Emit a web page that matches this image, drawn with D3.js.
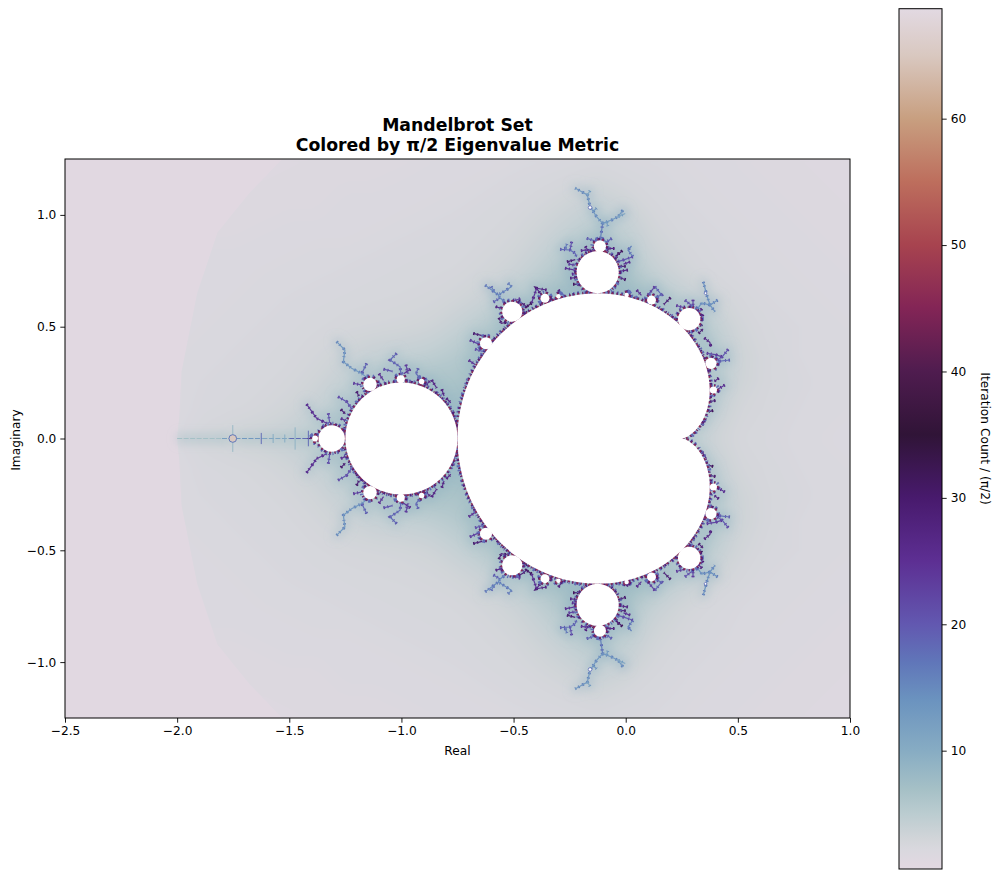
<!DOCTYPE html>
<html>
<head>
<meta charset="utf-8">
<script src="https://cdn.jsdelivr.net/npm/d3@7"></script>
<style>
  html, body { margin: 0; padding: 0; background: #fff; }
  text { font-family: "DejaVu Sans", sans-serif; fill: #000; }
</style>
</head>
<body>
<svg id="chart" width="1000" height="878"></svg>
<script>

const xTicks = [-2.5, -2, -1.5, -1, -0.5, 0, 0.5, 1];
const yTicks = [-1, -0.5, 0, 0.5, 1];
const barTicks = [10, 20, 30, 40, 50, 60];
const barDomain = [0.64, 68.7];

// colour bar, value -> colour
const cmapValues = [0.64, 1, 2.2, 3, 5, 7, 10, 14, 17, 20, 25, 30, 35, 40, 45, 50, 55, 60, 65, 68.7];
const cmapColors = ["#e2d9e2", "#e1d8e1", "#d9d8de", "#d2d5d9", "#bbccd0", "#a5c0c6", "#87acc3", "#6b93bf", "#6076b9", "#6258b0",
  "#5d2f93", "#481a6d", "#301437", "#4f1c4f", "#832556", "#a7434f", "#bd6e5d", "#c89f80", "#d9c8c0", "#e2d9e2"];

// background field, x from -2.5 to 1 by 0.125, rows y = 1.25 down to 0 by 0.125
const fieldX0 = -2.5, fieldY0 = 1.25, fieldStep = 0.125;
const fieldRows = [
  [1.7,1.7,1.7,1.7,1.7,1.7,1.7,1.7,1.7,1.8,1.8,1.9,1.9,2,2,2.1,2.2,2.3,2.4,2.5,2.4,2.3,2.2,2.1,2,1.9,1.8,1.7,1.6],
  [1.7,1.7,1.7,1.7,1.7,1.7,1.8,1.8,1.9,1.9,2,2,2.1,2.1,2.2,2.3,2.5,2.7,3,3.4,2.9,2.6,2.3,2.2,2.1,2,1.9,1.8,1.7],
  [1.8,1.8,1.8,1.8,1.8,1.8,1.9,1.9,2,2,2.1,2.1,2.2,2.3,2.4,2.6,2.8,3.2,3.8,4.6,4,2.9,2.5,2.3,2.2,2.1,2,1.9,1.8],
  [1.9,1.9,1.9,1.9,1.9,2,2,2.1,2.1,2.2,2.2,2.3,2.4,2.5,2.6,2.8,3.1,3.8,5,6.5,5,3.4,2.8,2.5,2.3,2.2,2.1,2,1.9],
  [2,2,2,2,2,2.1,2.1,2.2,2.3,2.3,2.4,2.5,2.6,2.7,2.8,3.1,3.6,4.8,6.5,8,6.5,4.2,3.2,2.7,2.4,2.3,2.2,2.1,2],
  [2,2,2,2,2.1,2.1,2.2,2.3,2.4,2.5,2.6,2.7,2.8,2.9,3.2,3.8,5.2,6.5,8,8,8,6.5,4.6,3.6,2.8,2.4,2.3,2.2,2.1],
  [2,2,2,2,2.1,2.2,2.3,2.4,2.5,2.7,2.9,3,3.1,3.4,4.2,5.5,8,8,8,8,8,8,6.5,5,3.2,2.6,2.4,2.3,2.2],
  [2,2,2,2,2.2,2.3,2.4,2.5,2.7,3,3.5,4,4.3,4.6,5.5,8,8,8,8,8,8,8,8,6,3.6,2.8,2.4,2.3,2.2],
  [2,2,2,2,2.2,2.4,2.5,2.7,2.9,3.4,4.4,6,7,7,6.5,8,8,8,8,8,8,8,8,6,3.5,2.8,2.5,2.3,2.2],
  [2,2,2,2,2.2,2.5,2.7,2.9,3.3,4.2,5.5,8,8,8,8,8,8,8,8,8,8,8,8,4.8,3,2.7,2.4,2.3,2.2],
  [2,2,2,2,2.3,3,3.4,3.7,4.3,5.5,8,8,8,8,8,8,8,8,8,8,8,8,6,3.6,2.8,2.5,2.3,2.2,2.1]
];

// faint edge between the pink outside and the grey field
const edgeX = [-1.53, -1.675, -1.82, -1.91, -1.98, -1.99, -2];
const edgeY = [1.25, 1.1, 0.92, 0.65, 0.3, 0.1, 0];

// main body outline, from the cusp round to the left end
const cardioidX = [0.25, 0.2665, 0.308, 0.3536, 0.375, 0.3459, 0.25, 0.0871, -0.125, -0.3536, -0.558, -0.6995, -0.75];
const cardioidY = [0, 0.0044, 0.0335, 0.1036, 0.2165, 0.358, 0.5, 0.608, 0.6495, 0.6036, 0.4665, 0.2544, 0];

// white discs
const bulbX = [-1, -1.311, -1.385, -0.125, -0.115, -0.506, 0.283, -0.623, 0.38, 0.391, -1.14, -1.003, -0.36, 0.115, -0.91, -0.3, 0.004];
const bulbY = [0, 0, 0, 0.744, 0.86, 0.567, 0.534, 0.426, 0.336, 0.217, 0.242, 0.265, 0.627, 0.619, 0.255, 0.636, 0.642];
const bulbR = [0.25, 0.059, 0.013, 0.094, 0.027, 0.045, 0.05, 0.027, 0.025, 0.016, 0.03, 0.018, 0.02, 0.02, 0.012, 0.01, 0.01];

// tiny specks out on the branches
const speckX = [-0.159, 0.356];
const speckY = [1.033, 0.65];
const speckR = [0.008, 0.006];

// real axis antenna: [x from, x to, value]
const antennaSegments = [[-2, -1.8, 7], [-1.8, -1.76, 12], [-1.74, -1.62, 13], [-1.62, -1.5, 11], [-1.5, -1.42, 18], [-1.42, -1.38, 28]];
// spikes across the antenna: [x, half height, value]
const antennaSpikes = [[-1.752, 0.06, 8], [-1.625, 0.025, 18], [-1.572, 0.02, 10], [-1.52, 0.018, 10], [-1.474, 0.05, 9], [-1.415, 0.035, 18]];
const miniX = -1.752, miniR = 0.017, miniValue = 65, miniRing = 17;

// branches: [value, x, y, x, y, ...]
const topBranches = [
  [16, -0.115, 0.88, -0.107, 0.933, -0.103, 0.962],
  [13, -0.103, 0.962, -0.13, 0.992, -0.159, 1.037, -0.171, 1.089, -0.204, 1.108, -0.226, 1.12],
  [11, -0.171, 1.089, -0.159, 1.108],
  [13, -0.103, 0.962, -0.063, 0.977, -0.034, 0.992, -0.012, 1.022],
  [11, -0.034, 0.992, -0.002, 1.006],
  [13, -0.145, 1.015, -0.13, 1.03],
  [12, -0.085, 0.97, -0.08, 0.95]
];
const topBulbBranches = [
  [18, -0.293, 0.846, -0.248, 0.843, -0.226, 0.829, -0.219, 0.812],
  [20, -0.241, 0.88, -0.248, 0.843],
  [16, -0.27, 0.85, -0.262, 0.87],
  [24, -0.271, 0.762, -0.226, 0.753, -0.2, 0.76],
  [26, -0.248, 0.717, -0.21, 0.72],
  [28, -0.262, 0.79, -0.225, 0.8],
  [30, -0.235, 0.69, -0.205, 0.69],
  [16, 0.032, 0.813, 0.01, 0.843, 0.026, 0.861],
  [20, 0.032, 0.813, -0.012, 0.798, -0.04, 0.79],
  [26, 0.01, 0.754, -0.025, 0.748],
  [28, 0.0, 0.71, -0.03, 0.72],
  [30, -0.015, 0.84, -0.045, 0.815],
  [18, -0.174, 0.895, -0.137, 0.884, -0.12, 0.89],
  [18, -0.062, 0.895, -0.085, 0.88, -0.105, 0.89],
  [24, -0.2, 0.84, -0.16, 0.845],
  [26, -0.05, 0.85, -0.08, 0.85],
  [22, -0.255, 0.78, -0.225, 0.775],
  [24, -0.24, 0.735, -0.205, 0.74],
  [26, -0.18, 0.86, -0.165, 0.835],
  [28, -0.14, 0.865, -0.145, 0.84],
  [26, -0.09, 0.86, -0.08, 0.84],
  [28, -0.03, 0.83, -0.05, 0.8],
  [28, 0.0, 0.77, -0.03, 0.77],
  [24, 0.02, 0.79, -0.01, 0.78]
];
const leftBulbBranches = [
  [15, -0.627, 0.686, -0.568, 0.642, -0.56, 0.628, -0.538, 0.612],
  [15, -0.525, 0.695, -0.509, 0.679, -0.568, 0.642],
  [18, -0.59, 0.61, -0.56, 0.628],
  [16, -0.6, 0.68, -0.585, 0.655],
  [22, -0.47, 0.625, -0.51, 0.612],
  [28, -0.44, 0.585, -0.455, 0.6, -0.48, 0.615],
  [28, -0.565, 0.54, -0.555, 0.515, -0.53, 0.52],
  [30, -0.455, 0.545, -0.44, 0.57],
  [24, -0.397, 0.672, -0.42, 0.605],
  [26, -0.353, 0.664, -0.397, 0.672, -0.375, 0.64],
  [30, -0.42, 0.605, -0.45, 0.585],
  [26, -0.3, 0.665, -0.29, 0.65],
  [28, -0.68, 0.47, -0.64, 0.46],
  [22, -0.695, 0.44, -0.65, 0.42],
  [20, -0.672, 0.4, -0.64, 0.39],
  [24, -0.7, 0.35, -0.67, 0.33],
  [26, -0.58, 0.59, -0.55, 0.58],
  [28, -0.47, 0.52, -0.49, 0.53]
];
const rightBulbBranches = [
  [14, 0.346, 0.701, 0.361, 0.642, 0.376, 0.597, 0.398, 0.567],
  [14, 0.41, 0.619, 0.376, 0.597, 0.339, 0.606, 0.32, 0.58],
  [20, 0.264, 0.619, 0.301, 0.589],
  [22, 0.225, 0.595, 0.26, 0.585],
  [26, 0.345, 0.555, 0.33, 0.53],
  [28, 0.325, 0.47, 0.345, 0.49],
  [18, 0.13, 0.679, 0.16, 0.642, 0.115, 0.625],
  [22, 0.1, 0.642, 0.13, 0.679],
  [24, 0.049, 0.664, 0.07, 0.64],
  [26, 0.004, 0.66, 0.02, 0.64],
  [28, 0.2, 0.63, 0.17, 0.6],
  [20, 0.457, 0.399, 0.43, 0.365, 0.4, 0.345],
  [18, 0.465, 0.351, 0.41, 0.345],
  [22, 0.361, 0.381, 0.4, 0.375, 0.43, 0.365],
  [26, 0.35, 0.45, 0.375, 0.43, 0.38, 0.41],
  [24, 0.442, 0.239, 0.41, 0.22],
  [26, 0.415, 0.27, 0.395, 0.255],
  [28, 0.4, 0.17, 0.375, 0.165],
  [30, 0.39, 0.125, 0.37, 0.12],
  [26, 0.34, 0.06, 0.36, 0.09],
  [22, 0.3, 0.62, 0.3, 0.59],
  [26, 0.34, 0.58, 0.32, 0.56],
  [30, 0.34, 0.51, 0.33, 0.5]
];
const discBranches = [
  [13, -1.289, 0.433, -1.252, 0.396, -1.259, 0.343, -1.222, 0.314, -1.177, 0.291, -1.15, 0.27],
  [18, -1.155, 0.336, -1.177, 0.291],
  [22, -1.215, 0.247, -1.18, 0.24],
  [18, -1.021, 0.381, -1.051, 0.351, -1.006, 0.321, -1.002, 0.285],
  [20, -1.08, 0.31, -1.04, 0.3],
  [24, -0.96, 0.31, -0.99, 0.29],
  [18, -0.925, 0.314, -0.935, 0.29, -0.91, 0.262],
  [26, -0.865, 0.262, -0.843, 0.226],
  [26, -0.89, 0.24, -0.87, 0.26],
  [24, -1.423, 0.154, -1.378, 0.09, -1.333, 0.068],
  [20, -1.326, 0.113, -1.32, 0.07],
  [20, -1.283, 0.187, -1.244, 0.165, -1.22, 0.13],
  [24, -1.27, 0.09, -1.25, 0.08],
  [26, -1.2, 0.16, -1.17, 0.19],
  [28, -1.24, 0.04, -1.23, 0.07],
  [28, -0.77, 0.12, -0.76, 0.05],
  [26, -0.8, 0.18, -0.78, 0.16],
  [24, -1.1, 0.29, -1.08, 0.26],
  [22, -0.98, 0.33, -0.97, 0.29],
  [26, -0.82, 0.22, -0.81, 0.19],
  [28, -1.27, 0.13, -1.25, 0.11],
  [28, -1.2, 0.21, -1.19, 0.19]
];

const plotLeft = 65, plotRight = 850, plotTop = 159, plotBottom = 718;
const barLeft = 899, barRight = 942, barTop = 8.7, barBottom = 869;

const svg = d3.select("#chart");
const x = d3.scaleLinear().domain([-2.5, 1]).range([plotLeft, plotRight]);
const y = d3.scaleLinear().domain([-1.25, 1.25]).range([plotBottom, plotTop]);
const color = d3.scaleLinear().domain(cmapValues).range(cmapColors);
const barScale = d3.scaleLinear().domain(barDomain).range([barBottom, barTop]);

const defs = svg.append("defs");
defs.append("clipPath").attr("id", "plotClip")
  .append("rect").attr("x", plotLeft).attr("y", plotTop)
  .attr("width", plotRight - plotLeft).attr("height", plotBottom - plotTop);

// grey region: edge going down on the left, then the plot corners
const edgeUpper = edgeX.map((d, i) => [d, edgeY[i]]);
const edgeLower = edgeUpper.slice(0, -1).reverse().map(d => [d[0], -d[1]]);
const greyRegion = edgeUpper.concat(edgeLower, [[1.1, -1.25], [1.1, 1.25]]);
defs.append("clipPath").attr("id", "greyClip")
  .append("path")
  .attr("d", d3.line().x(d => x(d[0])).y(d => y(d[1]))(greyRegion) + "Z");

function addBlur(id, amount) {
  defs.append("filter").attr("id", id)
    .attr("filterUnits", "userSpaceOnUse")
    .attr("x", 0).attr("y", 0).attr("width", 1000).attr("height", 878)
    .append("feGaussianBlur").attr("stdDeviation", amount);
}
addBlur("haloBlur", 5);
addBlur("fieldBlur", 7);
addBlur("softBlur", 0.5);

const plot = svg.append("g").attr("clip-path", "url(#plotClip)");

plot.append("rect")
  .attr("x", plotLeft).attr("y", plotTop)
  .attr("width", plotRight - plotLeft).attr("height", plotBottom - plotTop)
  .attr("fill", color(1));

// field contours
const grey = plot.append("g").attr("clip-path", "url(#greyClip)");
const allRows = fieldRows.concat(fieldRows.slice(0, -1).reverse());
const nx = fieldRows[0].length, ny = allRows.length;
const thresholds = d3.range(1.6, 8.2, 0.2);
const contours = d3.contours().size([nx, ny]).thresholds(thresholds)(d3.merge(allRows));
const toPlot = d3.geoTransform({
  point: function(gx, gy) {
    this.stream.point(x(fieldX0 + (gx - 0.5) * fieldStep), y(fieldY0 - (gy - 0.5) * fieldStep));
  }
});
grey.append("rect")
  .attr("x", plotLeft - 30).attr("y", plotTop - 30)
  .attr("width", plotRight - plotLeft + 60).attr("height", plotBottom - plotTop + 60)
  .attr("fill", color(1.6));
grey.append("g").attr("filter", "url(#fieldBlur)")
  .selectAll("path")
  .data(contours)
  .join("path")
  .attr("d", d3.geoPath(toPlot))
  .attr("fill", d => color(d.value));

// branches, typed upper half plus its mirror
const branchGroups = [topBranches, topBulbBranches, leftBulbBranches, rightBulbBranches, discBranches];
const branches = [];
branchGroups.forEach(group => group.forEach(b => {
  const pts = d3.pairs(b.slice(1)).filter((d, i) => i % 2 === 0);
  branches.push({ value: b[0], pts: pts });
  branches.push({ value: b[0], pts: pts.map(p => [p[0], -p[1]]) });
}));
const branchLine = d3.line().x(d => x(d[0])).y(d => y(d[1]));

const halo = plot.append("g").attr("filter", "url(#haloBlur)");
halo.selectAll("path")
  .data(branches)
  .join("path")
  .attr("d", d => branchLine(d.pts))
  .attr("fill", "none")
  .attr("stroke", color(9))
  .attr("stroke-width", 9)
  .attr("stroke-opacity", 0.3)
  .attr("stroke-linecap", "round");
halo.selectAll("line")
  .data(antennaSegments)
  .join("line")
  .attr("x1", d => x(d[0])).attr("x2", d => x(d[1]))
  .attr("y1", y(0)).attr("y2", y(0))
  .attr("stroke", color(7))
  .attr("stroke-width", 10)
  .attr("stroke-opacity", 0.5);

const soft = plot.append("g").attr("filter", "url(#softBlur)");

// antenna
soft.selectAll("line.antenna")
  .data(antennaSegments)
  .join("line")
  .attr("class", "antenna")
  .attr("x1", d => x(d[0])).attr("x2", d => x(d[1]))
  .attr("y1", y(0)).attr("y2", y(0))
  .attr("stroke", d => color(d[2]))
  .attr("stroke-width", 1.2)
  .attr("stroke-dasharray", "5 1.5");
soft.selectAll("line.spike")
  .data(antennaSpikes)
  .join("line")
  .attr("class", "spike")
  .attr("x1", d => x(d[0])).attr("x2", d => x(d[0]))
  .attr("y1", d => y(d[1])).attr("y2", d => y(-d[1]))
  .attr("stroke", d => color(d[2]))
  .attr("stroke-width", 1);
soft.append("circle")
  .attr("cx", x(miniX)).attr("cy", y(0))
  .attr("r", x(miniX + miniR) - x(miniX))
  .attr("fill", color(miniValue))
  .attr("stroke", color(miniRing))
  .attr("stroke-width", 1);

// thin branches, with a dashed wider copy for the twigs
const branchMarks = soft.append("g").attr("fill", "none");
branchMarks.selectAll("path.twig")
  .data(branches)
  .join("path")
  .attr("class", "twig")
  .attr("d", d => branchLine(d.pts))
  .attr("stroke", d => color(d.value + 3))
  .attr("stroke-width", 3)
  .attr("stroke-dasharray", "1.5 2.5 1 4 2 3");
branchMarks.selectAll("path.stem")
  .data(branches)
  .join("path")
  .attr("class", "stem")
  .attr("d", d => branchLine(d.pts))
  .attr("stroke", d => color(d.value))
  .attr("stroke-width", 1.2);

// set outlines
const cardioidUpper = cardioidX.map((d, i) => [d, cardioidY[i]]);
const cardioidPts = cardioidUpper.concat(cardioidUpper.slice(0, -1).reverse().map(d => [d[0], -d[1]]));
const cardioidPath = d3.line().x(d => x(d[0])).y(d => y(d[1])).curve(d3.curveCatmullRom)(cardioidPts) + "Z";

const bulbs = [];
bulbX.forEach((d, i) => {
  bulbs.push({ x: d, y: bulbY[i], r: bulbR[i] });
  if (bulbY[i] !== 0) bulbs.push({ x: d, y: -bulbY[i], r: bulbR[i] });
});
const radius = r => x(r) - x(0);

// rim hairs: dashed strokes that stick out from under the white shapes
const rimStyles = [[7, 18, "1.5 3 1 4.5 2 2.5"], [5, 28, "2 2 1 3.5 1.5 3"], [3.2, 46, "1 3 2 2.5"]];
rimStyles.forEach(s => {
  const rim = soft.append("g")
    .attr("fill", "none")
    .attr("stroke", color(s[1]))
    .attr("stroke-width", s[0])
    .attr("stroke-dasharray", s[2]);
  rim.append("path").attr("d", cardioidPath);
  rim.selectAll("circle")
    .data(bulbs)
    .join("circle")
    .attr("cx", d => x(d.x)).attr("cy", d => y(d.y))
    .attr("r", d => radius(d.r));
});

const whites = plot.append("g").attr("fill", "#fff");
whites.append("path").attr("d", cardioidPath);
whites.selectAll("circle")
  .data(bulbs)
  .join("circle")
  .attr("cx", d => x(d.x)).attr("cy", d => y(d.y))
  .attr("r", d => radius(d.r));

const specks = [];
speckX.forEach((d, i) => {
  specks.push({ x: d, y: speckY[i], r: speckR[i] });
  specks.push({ x: d, y: -speckY[i], r: speckR[i] });
});
plot.selectAll("circle.speck")
  .data(specks)
  .join("circle")
  .attr("class", "speck")
  .attr("cx", d => x(d.x)).attr("cy", d => y(d.y))
  .attr("r", d => radius(d.r))
  .attr("fill", "#fff")
  .attr("stroke", color(18))
  .attr("stroke-width", 0.8);

// axes
function styleAxis(g) {
  g.selectAll("path").remove();
  g.selectAll("line").attr("stroke", "#000").attr("stroke-width", 0.9);
  g.selectAll("text").attr("font-size", 12.2).attr("fill", "#000");
}
const tickFmt = d3.format(".1f");
svg.append("g")
  .attr("transform", `translate(0,${plotBottom})`)
  .call(d3.axisBottom(x).tickValues(xTicks).tickFormat(tickFmt).tickSize(4.7).tickPadding(4))
  .call(styleAxis);
svg.append("g")
  .attr("transform", `translate(${plotLeft},0)`)
  .call(d3.axisLeft(y).tickValues(yTicks).tickFormat(tickFmt).tickSize(4.7).tickPadding(4))
  .call(styleAxis);
svg.append("rect")
  .attr("x", plotLeft).attr("y", plotTop)
  .attr("width", plotRight - plotLeft).attr("height", plotBottom - plotTop)
  .attr("fill", "none").attr("stroke", "#000").attr("stroke-width", 1);

// titles
svg.append("text").attr("x", 457.5).attr("y", 131).attr("text-anchor", "middle")
  .attr("font-size", 17.3).attr("font-weight", "bold").text("Mandelbrot Set");
svg.append("text").attr("x", 457.5).attr("y", 151).attr("text-anchor", "middle")
  .attr("font-size", 17.3).attr("font-weight", "bold").text("Colored by π/2 Eigenvalue Metric");
svg.append("text").attr("x", 457.5).attr("y", 755).attr("text-anchor", "middle")
  .attr("font-size", 12.2).text("Real");
svg.append("text").attr("transform", "translate(20,440) rotate(-90)").attr("text-anchor", "middle")
  .attr("font-size", 12.2).text("Imaginary");

// colour bar
const barGradient = defs.append("linearGradient").attr("id", "barGradient")
  .attr("x1", 0).attr("x2", 0).attr("y1", 1).attr("y2", 0);
barGradient.selectAll("stop")
  .data(cmapValues)
  .join("stop")
  .attr("offset", d => (d - barDomain[0]) / (barDomain[1] - barDomain[0]))
  .attr("stop-color", d => color(d));
svg.append("rect")
  .attr("x", barLeft).attr("y", barTop)
  .attr("width", barRight - barLeft).attr("height", barBottom - barTop)
  .attr("fill", "url(#barGradient)")
  .attr("stroke", "#000").attr("stroke-width", 1);
svg.append("g")
  .attr("transform", `translate(${barRight},0)`)
  .call(d3.axisRight(barScale).tickValues(barTicks).tickSize(4.7).tickPadding(4))
  .call(styleAxis);
svg.append("text").attr("transform", "translate(981,438.5) rotate(90)").attr("text-anchor", "middle")
  .attr("font-size", 12.2).text("Iteration Count / (π/2)");
</script>
</body>
</html>
